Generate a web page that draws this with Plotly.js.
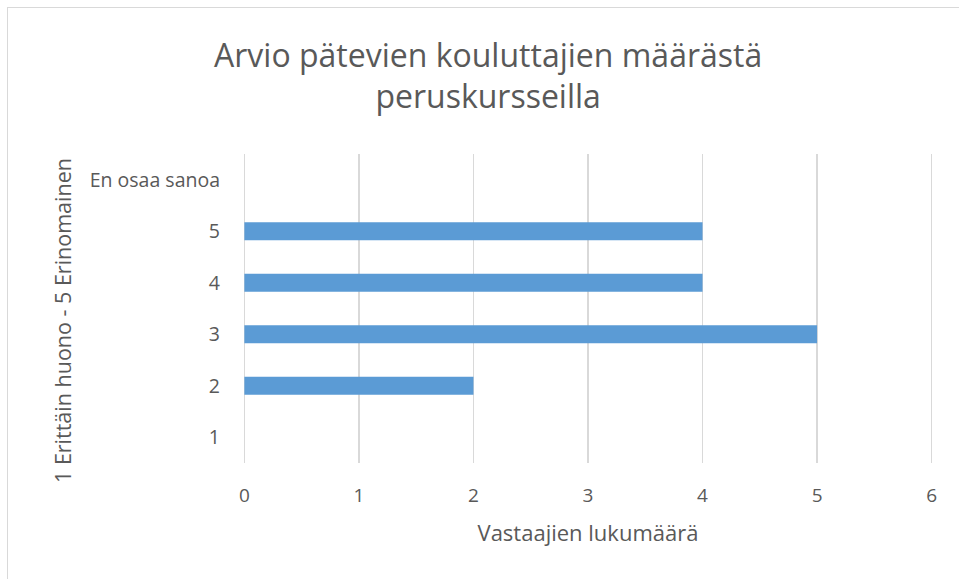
<!DOCTYPE html>
<html><head><meta charset="utf-8">
<script src="https://cdn.plot.ly/plotly-3.0.1.min.js"></script>
<style>
html,body{margin:0;padding:0;background:#fff;overflow:hidden;}
#frame{position:absolute;left:7px;top:7px;width:1000px;height:620px;border:1px solid #d9d9d9;box-sizing:border-box;}
#chart{position:absolute;left:0;top:0;width:959px;height:579px;}
</style>
</head><body>
<div id="frame"></div>
<div id="chart"></div>
<script>
const categories = ["1", "2", "3", "4", "5", "En osaa sanoa"];
const counts = [0, 2, 5, 4, 4, 0];
const xTicks = [0, 1, 2, 3, 4, 5, 6];
const titleText = "Arvio pätevien kouluttajien määrästä<br>peruskursseilla";
const xTitle = "Vastaajien lukumäärä";
const yTitle = "1 Erittäin huono - 5 Erinomainen";

const fontFam = "'Open Sans', 'Liberation Sans', sans-serif";
const txt = "#595959";

Plotly.newPlot("chart", [{
  type: "bar",
  orientation: "h",
  y: categories,
  x: counts,
  width: 0.35,
  marker: {color: "#5b9bd5"},
  hoverinfo: "none"
}], {
  width: 959, height: 579,
  paper_bgcolor: "rgba(0,0,0,0)",
  plot_bgcolor: "rgba(0,0,0,0)",
  margin: {l: 243, r: 26, t: 154, b: 116},
  showlegend: false,
  title: {
    text: titleText,
    font: {family: "'Liberation Sans Narrow', " + fontFam, size: 32, color: txt},
    x: 0.509, xanchor: "center", xref: "container",
    y: 0.885, yanchor: "middle", yref: "container"
  },
  xaxis: {
    range: [-0.012, 6.012],
    tickvals: xTicks,
    ticktext: xTicks.map(String),
    showgrid: true, gridcolor: "#d9d9d9", gridwidth: 1.3,
    zeroline: false, showline: false,
    ticks: "", ticklabelstandoff: 19,
    tickfont: {family: fontFam, size: 19, color: txt},
    title: {text: xTitle, font: {family: fontFam, size: 22, color: txt}, standoff: 18}
  },
  yaxis: {
    type: "category",
    categoryorder: "array", categoryarray: categories,
    range: [-0.5, 5.5],
    showgrid: false, zeroline: false, showline: false,
    ticks: "", ticklabelstandoff: 22,
    tickfont: {family: fontFam, size: 19.5, color: txt}
  },
  annotations: [{
    text: yTitle, textangle: -90, showarrow: false,
    xref: "paper", yref: "paper",
    x: (62 - 243) / 690, y: (463 - 320) / 309,
    xanchor: "center", yanchor: "middle",
    font: {family: fontFam, size: 21.5, color: txt}
  }]
}, {displayModeBar: false, staticPlot: true});
</script>
</body></html>
